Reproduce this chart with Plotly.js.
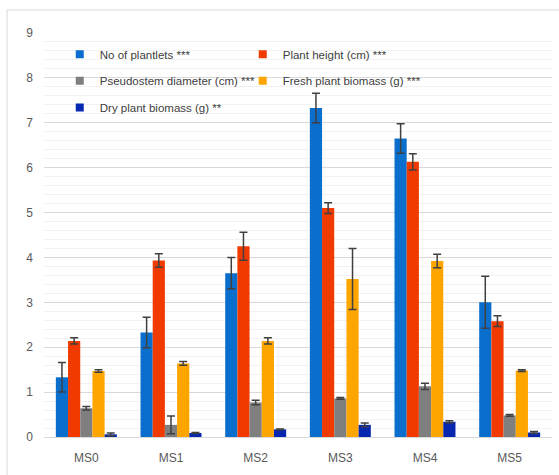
<!DOCTYPE html>
<html>
<head>
<meta charset="utf-8">
<script src="https://cdn.plot.ly/plotly-3.0.1.min.js"></script>
<style>html,body{margin:0;padding:0;background:#fff;}#chart{width:559px;height:475px;}</style>
</head>
<body>
<div id="chart"></div>
<script>
var categories = ["MS0", "MS1", "MS2", "MS3", "MS4", "MS5"];

var seriesNames = [
  "No of plantlets ***",
  "Plant height (cm) ***",
  "Pseudostem diameter (cm) ***",
  "Fresh plant biomass (g) ***",
  "Dry plant biomass (g) **"
];

var noPlantlets      = [1.33, 2.33, 3.65, 7.33, 6.65, 3.00];
var noPlantletsErr   = [0.33, 0.34, 0.35, 0.33, 0.33, 0.58];

var plantHeight      = [2.14, 3.93, 4.25, 5.10, 6.13, 2.58];
var plantHeightErr   = [0.07, 0.15, 0.31, 0.12, 0.18, 0.12];

var pseudostem       = [0.64, 0.27, 0.77, 0.86, 1.13, 0.48];
var pseudostemErr    = [0.04, 0.20, 0.05, 0.02, 0.07, 0.02];

var freshBiomass     = [1.47, 1.64, 2.14, 3.52, 3.92, 1.48];
var freshBiomassErr  = [0.03, 0.04, 0.07, 0.68, 0.15, 0.02];

var dryBiomass       = [0.06, 0.09, 0.17, 0.27, 0.34, 0.10];
var dryBiomassErr    = [0.03, 0.01, 0.01, 0.04, 0.02, 0.02];

var values = [noPlantlets, plantHeight, pseudostem, freshBiomass, dryBiomass];
var errors = [noPlantletsErr, plantHeightErr, pseudostemErr, freshBiomassErr, dryBiomassErr];
var colors = ["#0A6FCC", "#F03A00", "#7F7F7F", "#FFA500", "#0727B0"];
var legendRow = ["legend", "legend", "legend2", "legend2", "legend3"];

var fontFam = "Liberation Sans, Arial, sans-serif";
var data = [];
for (var i = 0; i < values.length; i++) {
  data.push({
    type: "bar",
    x: categories,
    y: values[i],
    name: seriesNames[i],
    legendgroup: "g" + i,
    showlegend: false,
    marker: {color: colors[i], line: {width: 0}},
    error_y: {type: "data", array: errors[i], visible: true, color: "#404040", thickness: 1.5, width: 4}
  });
}
for (var j = 0; j < values.length; j++) {
  data.push({
    type: "scatter",
    mode: "markers",
    x: [categories[0]],
    y: [null],
    name: seriesNames[j],
    legendgroup: "g" + j,
    legend: legendRow[j],
    showlegend: true,
    hoverinfo: "skip",
    marker: {symbol: "square", size: 8, color: colors[j]}
  });
}

function legendAt(yTop) {
  return {
    orientation: "h",
    x: 0.031,
    xanchor: "left",
    y: yTop,
    yanchor: "top",
    entrywidth: 138,
    bgcolor: "rgba(0,0,0,0)",
    font: {family: fontFam, size: 11.5, color: "#404040"},
    traceorder: "normal"
  };
}

var layout = {
  width: 559,
  height: 475,
  margin: {l: 44, r: 7, t: 33, b: 38},
  paper_bgcolor: "#ffffff",
  plot_bgcolor: "#ffffff",
  font: {family: fontFam, size: 12, color: "#595959"},
  barmode: "group",
  bargap: 0.28,
  bargroupgap: 0,
  showlegend: true,
  legend: legendAt(0.9834),
  legend2: legendAt(0.9176),
  legend3: legendAt(0.8515),
  xaxis: {
    type: "category",
    showgrid: false,
    showline: true,
    linecolor: "#D9D9D9",
    linewidth: 1,
    ticks: "",
    ticklabelstandoff: 10,
    tickfont: {family: fontFam, size: 12, color: "#595959"},
    fixedrange: true
  },
  yaxis: {
    range: [0, 9],
    dtick: 1,
    showgrid: true,
    gridcolor: "#D9D9D9",
    gridwidth: 1,
    zeroline: false,
    showline: false,
    ticks: "",
    ticklabelstandoff: 10,
    tickfont: {family: fontFam, size: 12, color: "#595959"},
    minor: {dtick: 0.2, showgrid: true, gridcolor: "#F2F2F2", gridwidth: 1},
    fixedrange: true
  },
  shapes: [{
    type: "rect",
    xref: "paper", yref: "paper",
    x0: -0.0728, x1: 1.05, y0: -0.2, y1: 1.057,
    line: {color: "#D9D9D9", width: 1},
    fillcolor: "rgba(0,0,0,0)",
    layer: "below"
  }]
};

Plotly.newPlot("chart", data, layout, {displayModeBar: false, staticPlot: true});
</script>
</body>
</html>
